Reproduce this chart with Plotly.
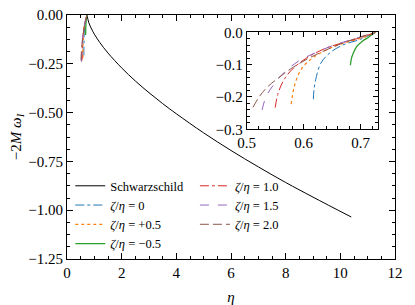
import plotly.graph_objects as go

# Schwarzschild curve
eta_s = [0.73, 0.80, 0.90, 1.00, 1.20, 1.50, 2.00, 2.50, 3.00, 3.50, 4.00, 5.00, 6.00, 7.00, 8.00, 9.00, 10.40]
w_s = [0.0, -0.040, -0.072, -0.098, -0.141, -0.195, -0.271, -0.338, -0.398, -0.454, -0.506, -0.604, -0.694, -0.778, -0.858, -0.933, -1.035]

# zeta/eta curves
x_z0 = [0.617, 0.618, 0.621, 0.630, 0.645, 0.669, 0.699, 0.726]
y_z0 = [-0.207, -0.180, -0.147, -0.096, -0.065, -0.039, -0.022, 0.0]
x_zp05 = [0.578, 0.585, 0.597, 0.615, 0.639, 0.669, 0.699, 0.726]
y_zp05 = [-0.222, -0.158, -0.111, -0.080, -0.055, -0.034, -0.019, 0.0]
x_zm05 = [0.682, 0.684, 0.687, 0.693, 0.702, 0.714, 0.726]
y_zm05 = [-0.102, -0.080, -0.065, -0.044, -0.029, -0.015, 0.0]
x_z10 = [0.550, 0.555, 0.567, 0.585, 0.609, 0.639, 0.669, 0.699, 0.726]
y_z10 = [-0.233, -0.189, -0.142, -0.106, -0.075, -0.049, -0.032, -0.017, 0.0]
x_z15 = [0.527, 0.534, 0.549, 0.567, 0.591, 0.621, 0.651, 0.687, 0.726]
y_z15 = [-0.240, -0.199, -0.158, -0.122, -0.089, -0.063, -0.041, -0.021, 0.0]
x_z20 = [0.511, 0.522, 0.537, 0.555, 0.579, 0.609, 0.639, 0.675, 0.726]
y_z20 = [-0.232, -0.199, -0.168, -0.142, -0.111, -0.080, -0.055, -0.029, 0.0]

labels = ["ζ/η = 0", "ζ/η = +0.5", "ζ/η = −0.5", "ζ/η = 1.0", "ζ/η = 1.5", "ζ/η = 2.0"]
colors = ["#1f77b4", "#ff7f0e", "#2ca02c", "#d62728", "#9467bd", "#8c564b"]
dashes = ["dashdot", "dot", "solid", "dashdot", "dash", "9px,4px"]
widths = [1, 1.2, 1.3, 1, 1, 1]
legends = ["legend", "legend", "legend", "legend2", "legend2", "legend2"]
xs = [x_z0, x_zp05, x_zm05, x_z10, x_z15, x_z20]
ys = [y_z0, y_zp05, y_zm05, y_z10, y_z15, y_z20]

FONT = "Liberation Serif"

fig = go.Figure()
fig.add_trace(go.Scatter(x=eta_s, y=w_s, mode="lines", name="Schwarzschild",
                         line=dict(color="black", width=1, shape="spline"),
                         legend="legend", xaxis="x", yaxis="y"))
for i in range(6):
    lab = labels[i].replace("ζ", "<i>ζ</i>").replace("η", "<i>η</i>")
    fig.add_trace(go.Scatter(x=xs[i], y=ys[i], mode="lines", name=lab,
                             line=dict(color=colors[i], width=widths[i], dash=dashes[i], shape="spline"),
                             legend=legends[i], xaxis="x", yaxis="y"))
for i in range(6):
    fig.add_trace(go.Scatter(x=xs[i], y=ys[i], mode="lines", showlegend=False,
                             line=dict(color=colors[i], width=widths[i], dash=dashes[i], shape="spline"),
                             xaxis="x2", yaxis="y2"))
# invisible traces to activate mirror-tick axes
fig.add_trace(go.Scatter(x=[None], y=[None], showlegend=False, xaxis="x3", yaxis="y3"))
fig.add_trace(go.Scatter(x=[None], y=[None], showlegend=False, xaxis="x4", yaxis="y4"))

tf = dict(family=FONT, size=15, color="black")
axcommon = dict(showline=True, linecolor="black", linewidth=1,
                ticks="inside", tickcolor="black", showgrid=False, zeroline=False,
                automargin=False, tickfont=tf)

fig.update_layout(
    width=415, height=305,
    margin=dict(l=67, r=20, t=15, b=46),
    paper_bgcolor="white", plot_bgcolor="white",
    font=dict(family=FONT, color="black"),
    xaxis=dict(range=[0, 12], dtick=2, tick0=0, ticklen=6, mirror=True,
               minor=dict(dtick=0.5, ticklen=3, ticks="inside", tickcolor="black"),
               title=dict(text="<i>η</i>", font=dict(size=15, family=FONT), standoff=11),
               **axcommon),
    yaxis=dict(range=[-1.25, 0], dtick=0.25, tick0=0, ticklen=6, tickformat=".2f", mirror=True,
               minor=dict(dtick=0.0625, ticklen=3, ticks="inside", tickcolor="black"),
               title=dict(text="−2<i>M ω<sub>I</sub></i>", font=dict(size=15, family=FONT), standoff=3),
               **axcommon),
    xaxis3=dict(overlaying="x", side="top", anchor="y", range=[0, 12], dtick=2, tick0=0, ticklen=6,
                showticklabels=False, ticks="inside", tickcolor="black", showgrid=False, zeroline=False,
                showline=False,
                minor=dict(dtick=0.5, ticklen=3, ticks="inside", tickcolor="black")),
    yaxis3=dict(overlaying="y", side="right", anchor="x", range=[-1.25, 0], dtick=0.25, tick0=0, ticklen=6,
                showticklabels=False, ticks="inside", tickcolor="black", showgrid=False, zeroline=False,
                showline=False,
                minor=dict(dtick=0.0625, ticklen=3, ticks="inside", tickcolor="black")),
    xaxis2=dict(domain=[0.548, 0.949], anchor="y2", range=[0.5, 0.731], dtick=0.1, tick0=0.5,
                ticklen=5, tickformat=".1f", mirror=True,
                minor=dict(dtick=0.02, ticklen=3, ticks="inside", tickcolor="black"),
                **axcommon),
    yaxis2=dict(domain=[0.5316, 0.929], anchor="x2", range=[-0.3, 0], dtick=0.1, tick0=0,
                ticklen=5, tickformat=".1f", mirror=True,
                minor=dict(dtick=0.02, ticklen=3, ticks="inside", tickcolor="black"),
                **axcommon),
    xaxis4=dict(domain=[0.548, 0.949], overlaying="x2", side="top", anchor="y2", range=[0.5, 0.731],
                dtick=0.1, tick0=0.5, ticklen=5, showticklabels=False, ticks="inside", tickcolor="black",
                showgrid=False, zeroline=False, showline=False,
                minor=dict(dtick=0.02, ticklen=3, ticks="inside", tickcolor="black")),
    yaxis4=dict(domain=[0.5316, 0.929], overlaying="y2", side="right", anchor="x2", range=[-0.3, 0],
                dtick=0.1, tick0=0, ticklen=5, showticklabels=False, ticks="inside", tickcolor="black",
                showgrid=False, zeroline=False, showline=False,
                minor=dict(dtick=0.02, ticklen=3, ticks="inside", tickcolor="black")),
    legend=dict(x=0.01, y=0.36, xanchor="left", yanchor="top", bgcolor="rgba(0,0,0,0)",
                font=dict(size=12.5, family=FONT), tracegroupgap=0),
    legend2=dict(x=0.39, y=0.36, xanchor="left", yanchor="top", bgcolor="rgba(0,0,0,0)",
                 font=dict(size=12.5, family=FONT), tracegroupgap=0),
    showlegend=True,
)

# remove the default page margin so the 415x305 figure fills the window exactly
fig.write_html("out.html", config={"displayModeBar": False},
               post_script="document.body.style.margin='0px';")
